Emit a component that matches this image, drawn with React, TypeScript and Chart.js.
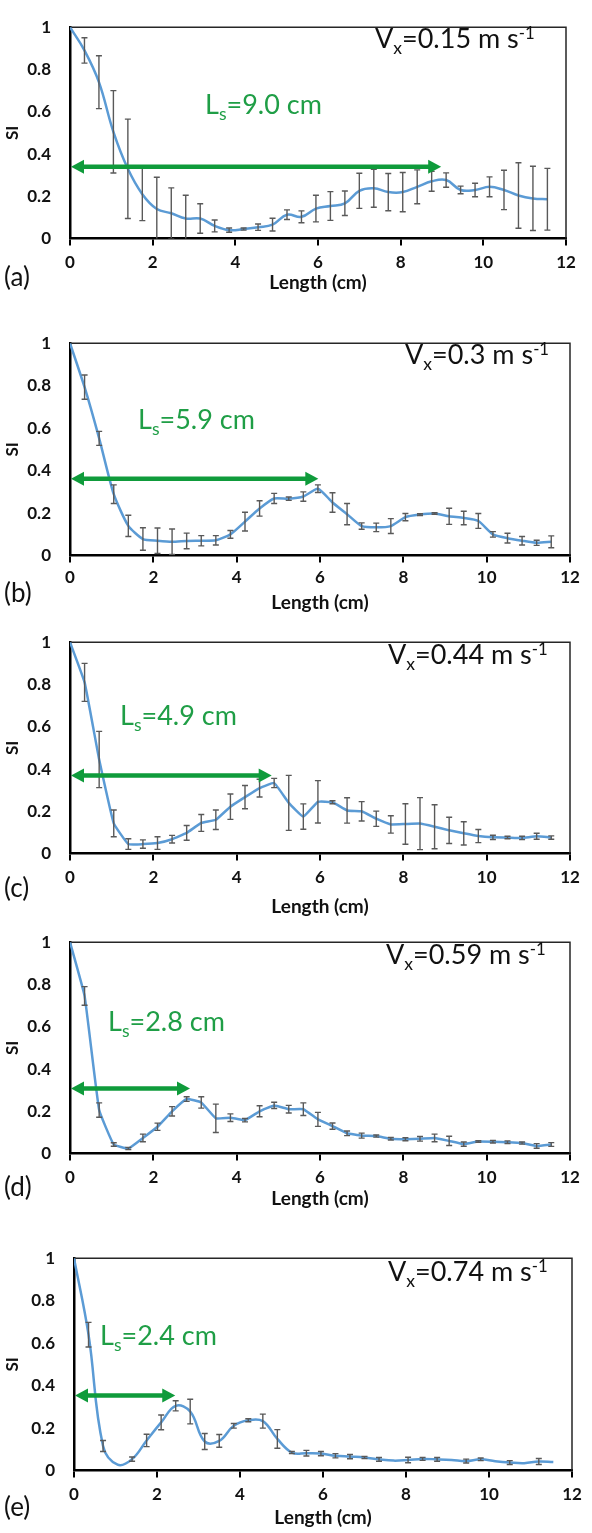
import React, { useEffect, useRef } from "react";
import { Chart, registerables } from "chart.js";
Chart.register(...registerables);

// ---------- DATA ----------
const lengthCm = [0, 0.35, 0.7, 1.05, 1.4, 1.75, 2.1, 2.45, 2.8, 3.15, 3.5, 3.85, 4.2, 4.55, 4.9, 5.25, 5.6, 5.95, 6.3, 6.65, 7.0, 7.35, 7.7, 8.05, 8.4, 8.75, 9.1, 9.45, 9.8, 10.15, 10.5, 10.85, 11.2, 11.55];

const siA = [1.0, 0.89, 0.74, 0.505, 0.33, 0.21, 0.14, 0.12, 0.095, 0.095, 0.06, 0.04, 0.045, 0.054, 0.066, 0.113, 0.103, 0.142, 0.154, 0.167, 0.226, 0.238, 0.22, 0.22, 0.245, 0.271, 0.277, 0.23, 0.23, 0.245, 0.23, 0.204, 0.19, 0.186];
const errA = [0, 0.06, 0.125, 0.195, 0.235, 0.125, 0.15, 0.12, 0.11, 0.07, 0.028, 0.01, 0.005, 0.015, 0.03, 0.023, 0.028, 0.063, 0.068, 0.058, 0.083, 0.09, 0.088, 0.093, 0.08, 0.047, 0.034, 0.018, 0.032, 0.047, 0.093, 0.155, 0.152, 0.146];

const siB = [1.0, 0.793, 0.552, 0.289, 0.14, 0.078, 0.07, 0.065, 0.069, 0.07, 0.072, 0.1, 0.16, 0.222, 0.269, 0.268, 0.278, 0.315, 0.25, 0.195, 0.139, 0.133, 0.139, 0.181, 0.193, 0.198, 0.185, 0.177, 0.163, 0.1, 0.082, 0.07, 0.06, 0.065];
const errB = [0, 0.057, 0.033, 0.044, 0.05, 0.053, 0.06, 0.06, 0.037, 0.024, 0.022, 0.018, 0.044, 0.036, 0.024, 0.008, 0.022, 0.018, 0.046, 0.05, 0.015, 0.02, 0.035, 0.017, 0.004, 0.004, 0.038, 0.032, 0.035, 0.013, 0.023, 0.02, 0.012, 0.028];

const siC = [1.0, 0.81, 0.445, 0.143, 0.045, 0.045, 0.05, 0.068, 0.098, 0.145, 0.16, 0.222, 0.267, 0.31, 0.334, 0.24, 0.175, 0.245, 0.243, 0.204, 0.2, 0.165, 0.138, 0.14, 0.142, 0.127, 0.11, 0.096, 0.083, 0.077, 0.076, 0.074, 0.082, 0.076];
const errC = [0, 0.09, 0.133, 0.063, 0.025, 0.02, 0.03, 0.018, 0.035, 0.04, 0.046, 0.06, 0.055, 0.042, 0.022, 0.13, 0.06, 0.1, 0.007, 0.06, 0.046, 0.036, 0.041, 0.096, 0.123, 0.104, 0.062, 0.055, 0.031, 0.01, 0.006, 0.008, 0.014, 0.008];

const siD = [1.0, 0.746, 0.206, 0.043, 0.024, 0.074, 0.127, 0.2, 0.258, 0.242, 0.167, 0.17, 0.158, 0.2, 0.228, 0.21, 0.21, 0.162, 0.13, 0.096, 0.085, 0.083, 0.07, 0.068, 0.07, 0.074, 0.06, 0.045, 0.057, 0.056, 0.054, 0.05, 0.036, 0.043];
const errD = [0, 0.044, 0.034, 0.008, 0.005, 0.018, 0.017, 0.022, 0.011, 0.027, 0.067, 0.018, 0.008, 0.026, 0.015, 0.018, 0.03, 0.033, 0.015, 0.011, 0.012, 0.005, 0.006, 0.007, 0.011, 0.018, 0.022, 0.01, 0.004, 0.006, 0.006, 0.005, 0.011, 0.009];

const siE = [1.0, 0.64, 0.116, 0.028, 0.054, 0.142, 0.227, 0.305, 0.278, 0.137, 0.14, 0.211, 0.237, 0.233, 0.149, 0.085, 0.082, 0.08, 0.07, 0.066, 0.062, 0.053, 0.047, 0.05, 0.055, 0.053, 0.05, 0.045, 0.053, 0.044, 0.038, 0.035, 0.043, 0.04];
const errE = [0, 0.058, 0.026, 0, 0.01, 0.029, 0.035, 0.024, 0.058, 0.038, 0.03, 0.011, 0.007, 0.033, 0.044, 0.005, 0.013, 0.01, 0.01, 0.01, 0.005, 0.009, 0, 0.013, 0.007, 0.009, 0, 0.009, 0.006, 0, 0.009, 0, 0.014, 0];

const panelLabels = ["(a)", "(b)", "(c)", "(d)", "(e)"];
const velocities = ["0.15", "0.3", "0.44", "0.59", "0.74"];
const lsValues = ["9.0", "5.9", "4.9", "2.8", "2.4"];
const arrowEnds = [8.98, 5.96, 4.84, 2.88, 2.44];
const arrowLevels = [0.34, 0.362, 0.37, 0.308, 0.354];
const xTicks = [0, 2, 4, 6, 8, 10, 12];
const yTicks = [0, 0.2, 0.4, 0.6, 0.8, 1];
const xTitle = "Length (cm)";
const yTitle = "SI";

const SERIES = [siA, siB, siC, siD, siE];
const ERRORS = [errA, errB, errC, errD, errE];

// ---------- LAYOUT (styles) ----------
const GEOM = [
  { left: 70, right: 566, top: 12, bottom: 239, tickGap: 24, titleGap: 44, labelY: 277, tension: 0.4, vx: [375, 49], ls: [205, 115] },
  { left: 70, right: 570, top: 328, bottom: 556, tickGap: 22, titleGap: 47, labelY: 593, tension: 0.2, vx: [405, 365], ls: [138, 430] },
  { left: 70, right: 570, top: 627, bottom: 854, tickGap: 24, titleGap: 53, labelY: 888, tension: 0.1, vx: [388, 665], ls: [120, 726] },
  { left: 70, right: 570, top: 927, bottom: 1154, tickGap: 24, titleGap: 45, labelY: 1187, tension: 0.1, vx: [386, 965], ls: [108, 1032] },
  { left: 74, right: 572, top: 1243, bottom: 1471, tickGap: 24, titleGap: 47, labelY: 1507, tension: 0.4, vx: [388, 1282], ls: [100, 1346] },
];

const FONT = "Lato, 'Open Sans', sans-serif";
const GREEN_LINE = "#0f9b3b";
const GREEN_TEXT = "#1f9e46";
const BLUE = "#5b9bd5";
const PAD_TOP = 14;
const TICK_FONT = 17;
const TITLE_FONT = 19;
const Y_TITLE_FONT = 17;
const TICK_LEN = 7;
const NOTE_FONT = 27;
const LABEL_FONT = 26;

function Panel({ idx }: { idx: number }) {
  const ref = useRef<HTMLCanvasElement>(null);
  const g = GEOM[idx];
  const axisH = g.titleGap + (TITLE_FONT * 1.2) / 2;
  const canvasTop = g.top - PAD_TOP;
  const canvasH = Math.round(PAD_TOP + (g.bottom - g.top) + axisH);

  useEffect(() => {
    const vals = SERIES[idx];
    const errs = ERRORS[idx];
    const decor = {
      id: "decor" + idx,
      beforeDatasetsDraw(chart: any) {
        const { ctx, chartArea: a } = chart;
        ctx.save();
        ctx.strokeStyle = "#262626";
        ctx.lineWidth = 1.5;
        ctx.beginPath();
        ctx.moveTo(a.left, a.top);
        ctx.lineTo(a.right, a.top);
        ctx.lineTo(a.right, a.bottom);
        ctx.stroke();
        ctx.restore();
      },
      afterDatasetsDraw(chart: any) {
        const { ctx, chartArea: a, scales } = chart;
        const xs = scales.x;
        const ys = scales.y;
        ctx.save();
        ctx.beginPath();
        ctx.rect(a.left, a.top - 3, a.right - a.left, a.bottom - a.top + 3);
        ctx.clip();
        ctx.strokeStyle = "#595959";
        ctx.lineWidth = 1.4;
        lengthCm.forEach((x, i) => {
          const e = errs[i];
          if (!e) return;
          const px = xs.getPixelForValue(x);
          const y1 = ys.getPixelForValue(vals[i] + e);
          const y2 = ys.getPixelForValue(vals[i] - e);
          ctx.beginPath();
          ctx.moveTo(px, y1);
          ctx.lineTo(px, y2);
          ctx.moveTo(px - 3, y1);
          ctx.lineTo(px + 3, y1);
          ctx.moveTo(px - 3, y2);
          ctx.lineTo(px + 3, y2);
          ctx.stroke();
        });
        ctx.restore();

        // double-headed arrow
        const ay = ys.getPixelForValue(arrowLevels[idx]);
        const x0 = xs.getPixelForValue(0) + 1;
        const x1 = xs.getPixelForValue(arrowEnds[idx]);
        const hl = 13;
        const hh = 7;
        ctx.save();
        ctx.strokeStyle = GREEN_LINE;
        ctx.fillStyle = GREEN_LINE;
        ctx.lineWidth = 4.5;
        ctx.beginPath();
        ctx.moveTo(x0 + hl - 2, ay);
        ctx.lineTo(x1 - hl + 2, ay);
        ctx.stroke();
        ctx.beginPath();
        ctx.moveTo(x0, ay);
        ctx.lineTo(x0 + hl, ay - hh);
        ctx.lineTo(x0 + hl, ay + hh);
        ctx.closePath();
        ctx.fill();
        ctx.beginPath();
        ctx.moveTo(x1, ay);
        ctx.lineTo(x1 - hl, ay - hh);
        ctx.lineTo(x1 - hl, ay + hh);
        ctx.closePath();
        ctx.fill();
        ctx.restore();
      },
    };

    const chart = new Chart(ref.current as HTMLCanvasElement, {
      type: "line",
      data: {
        datasets: [
          {
            data: lengthCm.map((x, i) => ({ x, y: vals[i] })),
            borderColor: BLUE,
            borderWidth: 2.5,
            pointRadius: 0,
            tension: g.tension,
            fill: false,
          },
        ],
      },
      options: {
        responsive: false,
        animation: false,
        events: [],
        layout: { padding: { left: 0, top: PAD_TOP, right: 592 - g.right, bottom: 0 } },
        plugins: { legend: { display: false }, tooltip: { enabled: false } },
        scales: {
          x: {
            type: "linear",
            min: 0,
            max: 12,
            afterBuildTicks: (s: any) => {
              s.ticks = xTicks.map((v) => ({ value: v }));
            },
            afterFit: (s: any) => {
              s.height = axisH;
            },
            grid: { drawOnChartArea: false, drawTicks: true, tickLength: TICK_LEN, color: "#000", lineWidth: 2 },
            border: { display: true, color: "#000", width: 2.5 },
            ticks: {
              color: "#111",
              padding: g.tickGap - TICK_LEN - (TICK_FONT * 1.2) / 2,
              maxRotation: 0,
              autoSkip: false,
              font: { family: FONT, size: TICK_FONT, weight: "bold" },
              callback: (v: any) => String(v),
            },
            title: {
              display: true,
              text: xTitle,
              color: "#111",
              padding: { top: 0, bottom: 0 },
              font: { family: FONT, size: TITLE_FONT, weight: "bold" },
            },
          },
          y: {
            type: "linear",
            min: 0,
            max: 1,
            afterBuildTicks: (s: any) => {
              s.ticks = yTicks.map((v) => ({ value: v }));
            },
            afterFit: (s: any) => {
              s.width = g.left;
            },
            grid: { display: false, drawTicks: false },
            border: { display: true, color: "#000", width: 2.5 },
            ticks: {
              color: "#111",
              padding: 19,
              autoSkip: false,
              font: { family: FONT, size: TICK_FONT, weight: "bold" },
              callback: (v: any) => String(v),
            },
            title: {
              display: true,
              text: yTitle,
              color: "#111",
              padding: { top: 2, bottom: 0 },
              font: { family: FONT, size: Y_TITLE_FONT, weight: "bold" },
            },
          },
        },
      },
      plugins: [decor],
    } as any);
    return () => chart.destroy();
  }, []);

  return (
    <canvas
      ref={ref}
      width={592}
      height={canvasH}
      style={{ position: "absolute", left: 0, top: canvasTop, width: 592, height: canvasH }}
    />
  );
}

const SUB: React.CSSProperties = { fontSize: "0.65em", position: "relative", top: "0.32em" };
const SUP: React.CSSProperties = { fontSize: "0.62em", position: "relative", top: "-0.55em" };

function Annotations({ idx }: { idx: number }) {
  const g = GEOM[idx];
  const F = NOTE_FONT;
  const asc = 0.987;
  const base: React.CSSProperties = {
    position: "absolute",
    fontFamily: FONT,
    fontSize: F,
    lineHeight: `${F * 1.2}px`,
    whiteSpace: "nowrap",
  };
  const LF = LABEL_FONT;
  return (
    <>
      <div style={{ ...base, left: g.vx[0], top: g.vx[1] - asc * F, color: "#111" }}>
        V<span style={SUB}>x</span>={velocities[idx]} m s<span style={SUP}>-1</span>
      </div>
      <div style={{ ...base, left: g.ls[0], top: g.ls[1] - asc * F, color: GREEN_TEXT }}>
        L<span style={SUB}>s</span>={lsValues[idx]} cm
      </div>
      <div
        style={{
          position: "absolute",
          left: 4,
          top: g.labelY - (LF * 1.2) / 2,
          fontFamily: FONT,
          fontSize: LF,
          lineHeight: `${LF * 1.2}px`,
          color: "#111",
        }}
      >
        {panelLabels[idx]}
      </div>
    </>
  );
}

export default function App() {
  return (
    <div style={{ position: "absolute", left: 0, top: 0, width: 592, height: 1533, background: "#fff", overflow: "hidden" }}>
      {GEOM.map((_, i) => (
        <Panel key={"p" + i} idx={i} />
      ))}
      {GEOM.map((_, i) => (
        <Annotations key={"a" + i} idx={i} />
      ))}
    </div>
  );
}
